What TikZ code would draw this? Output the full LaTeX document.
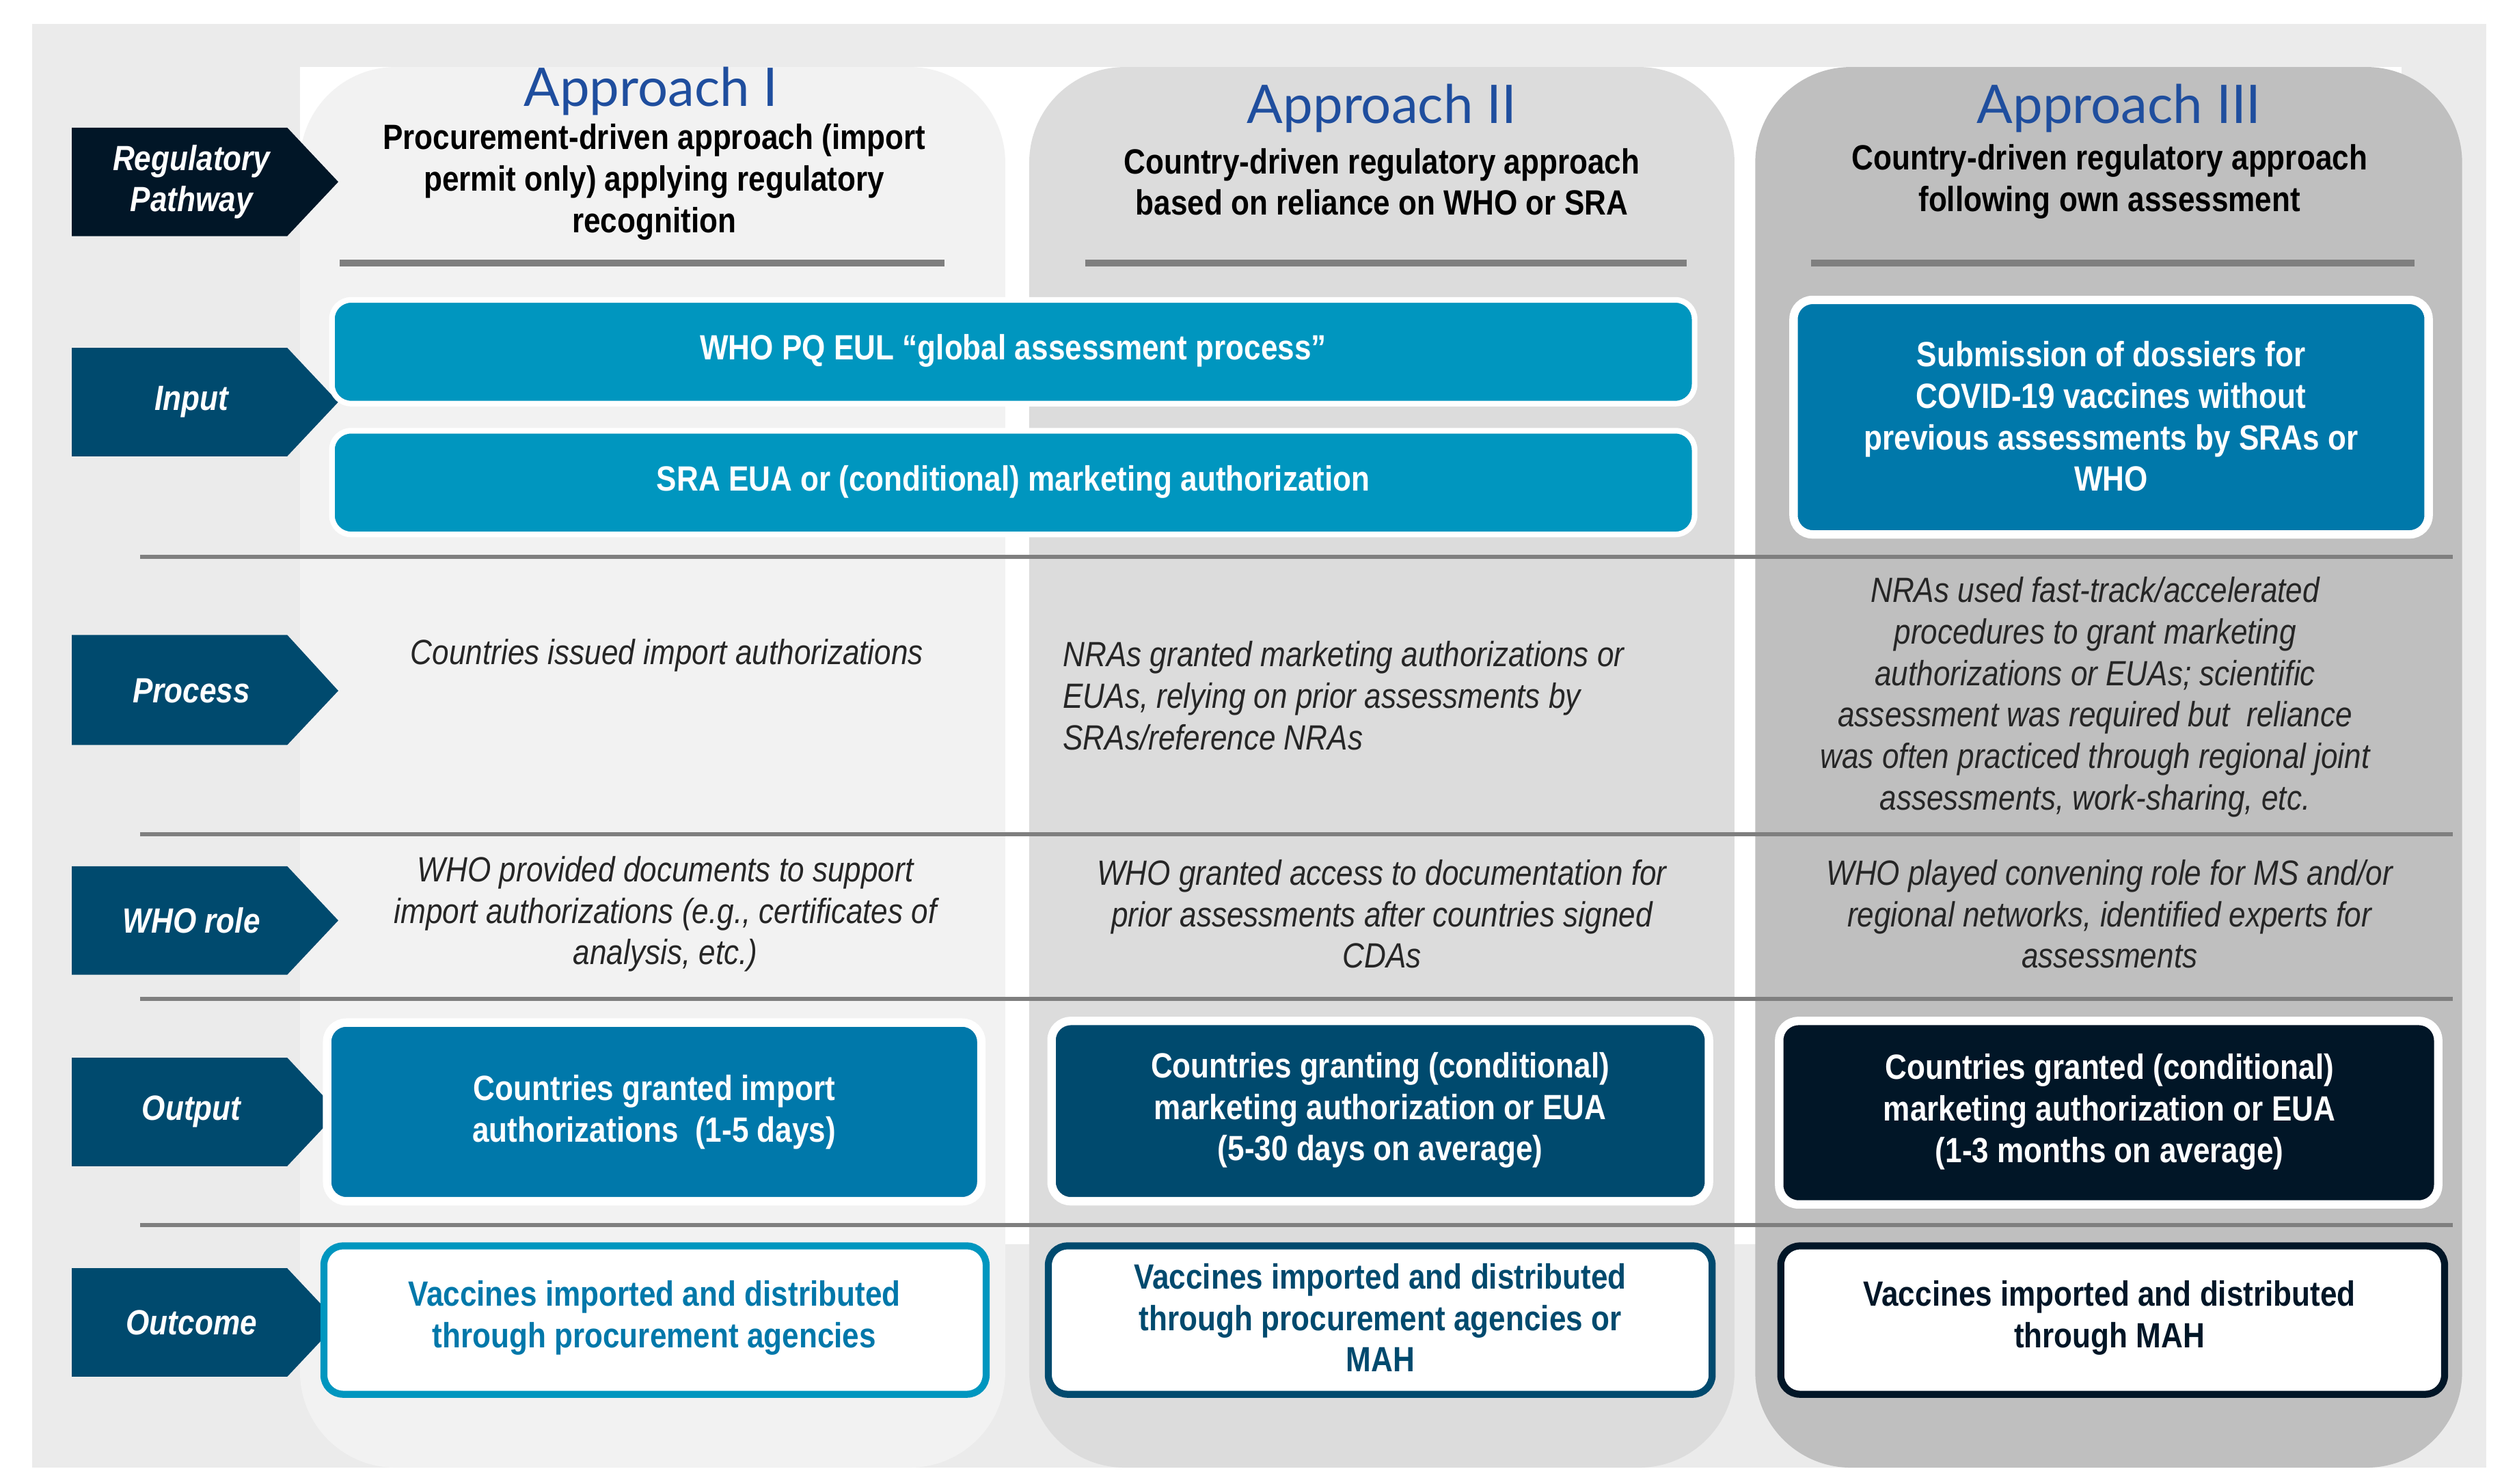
\documentclass[tikz,border=0pt]{standalone}
\usepackage{fontspec}
\setmainfont{Liberation Sans}[FakeStretch=0.86]
\newfontfamily\titlefont{Lato}
\definecolor{pagegray}{HTML}{EBEBEB}
\definecolor{colone}{HTML}{F2F2F2}
\definecolor{coltwo}{HTML}{DCDCDC}
\definecolor{colthree}{HTML}{BFBFBF}
\definecolor{rulegray}{HTML}{7F7F7F}
\definecolor{navy}{HTML}{011627}
\definecolor{deepblue}{HTML}{004A6E}
\definecolor{teal}{HTML}{0096BF}
\definecolor{midblue}{HTML}{0078AA}
\definecolor{titleblue}{HTML}{1F4E9E}
\tikzset{
  panel/.style = {rounded corners=60*0.02cm},
  sep/.style = {rulegray, line width=1.5pt},
  headrule/.style = {rulegray, line width=2.5pt},
  tag/.style = {text=white, font=\bfseries\itshape\fontsize{12.5}{14.5}\selectfont, align=center},
  box/.style = {rounded corners=12*0.02cm, draw=white, line width=2pt},
  boxtext/.style = {font=\bfseries\fontsize{12.5}{14.8}\selectfont, align=center},
  bodytext/.style = {font=\itshape\fontsize{12.5}{14.8}\selectfont, align=center, text=black!85},
  heading/.style = {font=\titlefont\fontsize{19}{21}\selectfont, text=titleblue},
  subhead/.style = {font=\bfseries\fontsize{12.5}{14.8}\selectfont, align=center},
}
\begin{document}
\begin{tikzpicture}[x=0.02cm, y=-0.02cm]
  \useasboundingbox (0,0) rectangle (1568,930);
  \fill[pagegray] (20,15) rectangle (1558,920);
  \fill[white] (188,42) rectangle (1505,780);

  % columns
  \fill[colone, panel] (188,42) rectangle (630,920);
  \fill[coltwo, panel] (645,42) rectangle (1087,920);
  \fill[colthree, panel] (1100,42) rectangle (1543,920);

  % headings
  \node[heading] (h1) at (408,57) {Approach I};
  \node[heading] (h2) at (866,68) {Approach II};
  \node[heading] (h3) at (1328,68) {Approach III};
  \node[subhead] (s1) at (410,114) {Procurement-driven approach (import\\permit only) applying regulatory\\recognition};
  \node[subhead] (s2) at (866,114) {Country-driven regulatory approach\\based on reliance on WHO or SRA};
  \node[subhead] (s3) at (1322,114) {Country-driven regulatory approach\\following own assessment};
  \draw[headrule] (213,165) -- (592,165);
  \draw[headrule] (680,165) -- (1057,165);
  \draw[headrule] (1135,165) -- (1513,165);

  % row separators
  \draw[sep] (88,349) -- (1537,349);
  \draw[sep] (88,523) -- (1537,523);
  \draw[sep] (88,626) -- (1537,626);
  \draw[sep] (88,768) -- (1537,768);

  % row tags
  \fill[navy] (45,80) -- (180,80) -- (212,114) -- (180,148) -- (45,148) -- cycle;
  \node[tag] (tPath) at (120,114) {Regulatory\\Pathway};
  \fill[deepblue] (45,218) -- (180,218) -- (212,252) -- (180,286) -- (45,286) -- cycle;
  \node[tag] (tIn) at (120,252) {Input};
  \fill[deepblue] (45,398) -- (180,398) -- (212,433) -- (180,467) -- (45,467) -- cycle;
  \node[tag] (tProc) at (120,433) {Process};
  \fill[deepblue] (45,543) -- (180,543) -- (212,577) -- (180,611) -- (45,611) -- cycle;
  \node[tag] (tWho) at (120,577) {WHO role};
  \fill[deepblue] (45,663) -- (180,663) -- (212,697) -- (180,731) -- (45,731) -- cycle;
  \node[tag] (tOut) at (120,697) {Output};
  \fill[deepblue] (45,795) -- (180,795) -- (212,829) -- (180,863) -- (45,863) -- cycle;
  \node[tag] (tOc) at (120,829) {Outcome};

  % input
  \draw[box, fill=teal] (208,188) rectangle (1062,253);
  \node[boxtext, text=white] (inWho) at (635,220) {WHO PQ EUL “global assessment process”};
  \draw[box, fill=teal] (208,270) rectangle (1062,335);
  \node[boxtext, text=white] (inSra) at (635,302) {SRA EUA or (conditional) marketing authorization};
  \draw[box, fill=midblue, line width=3pt] (1124,188) rectangle (1522,335);
  \node[boxtext, text=white] (inDos) at (1323,261) {Submission of dossiers for\\COVID-19 vaccines without\\previous assessments by SRAs or\\WHO};

  % process
  \node[bodytext] (p1) at (418,411) {Countries issued import authorizations};
  \node[bodytext, align=left, anchor=west] (p2) at (660,436) {NRAs granted marketing authorizations or\\EUAs, relying on prior assessments by\\SRAs/reference NRAs};
  \node[bodytext] (p3) at (1313,437) {NRAs used fast-track/accelerated\\procedures to grant marketing\\authorizations or EUAs; scientific\\assessment was required but~ reliance\\was often practiced through regional joint\\assessments, work-sharing, etc.};

  % WHO role
  \node[bodytext] (w1) at (417,573) {WHO provided documents to support\\import authorizations (e.g., certificates of\\analysis, etc.)};
  \node[bodytext] (w2) at (866,573) {WHO granted access to documentation for\\prior assessments after countries signed\\CDAs};
  \node[bodytext] (w3) at (1322,573) {WHO played convening role for MS and/or\\regional networks, identified experts for\\assessments};

  % output
  \draw[box, fill=midblue, line width=3pt] (205,641) rectangle (615,753);
  \node[boxtext, text=white] (o1) at (410,697) {Countries granted import\\authorizations~ (1-5 days)};
  \draw[box, fill=deepblue, line width=3pt] (659,640) rectangle (1071,753);
  \node[boxtext, text=white] (o2) at (865,696) {Countries granting (conditional)\\marketing authorization or EUA\\(5-30 days on average)};
  \draw[box, fill=navy, line width=3pt] (1115,640) rectangle (1528,755);
  \node[boxtext, text=white] (o3) at (1322,697) {Countries granted (conditional)\\marketing authorization or EUA\\(1-3 months on average)};

  % outcome
  \draw[box, fill=white, draw=teal, line width=2.5pt] (203,781) rectangle (618,874);
  \node[boxtext, text=midblue] (oc1) at (410,826) {Vaccines imported and distributed\\through procurement agencies};
  \draw[box, fill=white, draw=deepblue, line width=2.5pt] (657,781) rectangle (1073,874);
  \node[boxtext, text=deepblue] (oc2) at (865,826) {Vaccines imported and distributed\\through procurement agencies or\\MAH};
  \draw[box, fill=white, draw=navy, line width=2.5pt] (1116,781) rectangle (1532,874);
  \node[boxtext, text=navy] (oc3) at (1322,826) {Vaccines imported and distributed\\through MAH};
\end{tikzpicture}
\end{document}
